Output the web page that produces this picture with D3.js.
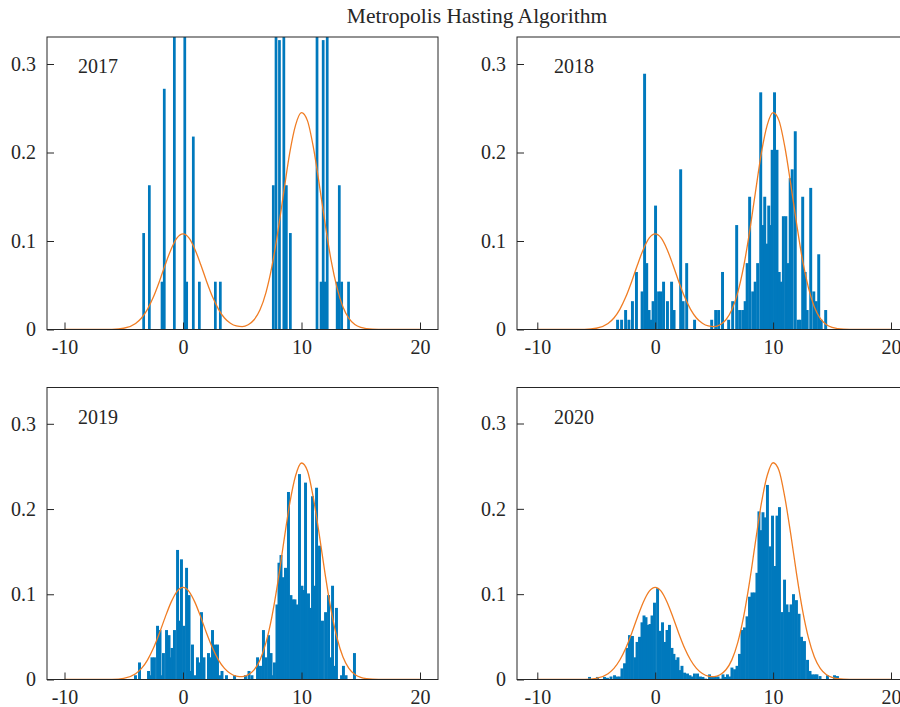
<!DOCTYPE html>
<html>
<head>
<meta charset="utf-8">
<script src="https://cdnjs.cloudflare.com/ajax/libs/d3/7.8.5/d3.min.js"></script>
<style>
body { margin: 0; background: #fff; }
svg text { font-family: "Liberation Serif", "DejaVu Serif", serif; fill: #262626; }
</style>
</head>
<body>
<div id="chart"></div>
<script>
var years = ["2017", "2018", "2019", "2020"];
var xTicks = [-10, 0, 10, 20];
var yTicks = [0, 0.1, 0.2, 0.3];

// bin centres and densities
var bins2017 = [-3.32, -2.84, -1.77, -1.58, -0.73, 0.15, 0.31, 0.87, 1.38, 2.73, 3.15,
  7.62, 7.85, 8.14, 8.51, 8.72, 9.06, 11.31, 11.65, 11.83, 12.01, 12.17, 13.01, 13.19, 13.39, 13.97];
var dens2017 = [0.109, 0.163, 0.054, 0.272, 0.38, 0.38, 0.054, 0.218, 0.054, 0.054, 0.054,
  0.163, 0.38, 0.327, 0.38, 0.163, 0.109, 0.38, 0.054, 0.327, 0.054, 0.38, 0.054, 0.163, 0.054, 0.054];

var bins2018 = [-3.19, -2.85, -2.51, -2.23, -1.93, -1.59, -1.11, -0.90, -0.72, -0.52, -0.35, -0.18,
  0.03, 0.29, 0.50, 0.71, 1.04, 1.39, 1.60, 2.16, 2.37, 2.67, 3.34, 4.79, 5.13, 5.38, 5.71, 6.23,
  6.57, 6.91, 7.16, 7.42, 7.63, 7.80, 8.01, 8.27, 8.48, 8.69, 8.95, 9.12, 9.29, 9.46, 9.63, 9.78,
  9.92, 10.12, 10.33, 10.52, 10.69, 10.87, 11.08, 11.28, 11.45, 11.62, 11.88, 12.13, 12.30, 12.51,
  12.72, 12.89, 13.19, 13.45, 13.66, 13.87, 14.08, 14.46];
var dens2018 = [0.011, 0.011, 0.022, 0.011, 0.032, 0.065, 0.043, 0.289, 0.075, 0.022, 0.011, 0.032,
  0.14, 0.043, 0.043, 0.054, 0.032, 0.054, 0.022, 0.181, 0.032, 0.075, 0.011, 0.011, 0.022, 0.022, 0.065, 0.011,
  0.032, 0.118, 0.022, 0.022, 0.032, 0.075, 0.15, 0.043, 0.054, 0.075, 0.268, 0.118, 0.15, 0.097, 0.14, 0.118,
  0.203, 0.268, 0.203, 0.065, 0.054, 0.128, 0.128, 0.075, 0.171, 0.181, 0.224, 0.011, 0.011, 0.15,
  0.065, 0.022, 0.16, 0.043, 0.032, 0.085, 0.011, 0.022];

var bins2019 = [-4.01, -3.67, -2.91, -2.74, -2.62, -2.41, -2.15, -1.94, -1.81, -1.65, -1.39, -1.18,
  -1.05, -0.93, -0.72, -0.46, -0.30, -0.13, 0.08, 0.30, 0.51, 0.63, 0.80, 1.01, 1.22, 1.39, 1.56,
  1.77, 2.15, 2.32, 2.49, 2.70, 2.91, 3.12, 3.29, 3.67, 4.35, 5.27, 5.57, 5.82, 6.29, 6.54, 6.79,
  7.00, 7.22, 7.43, 7.55, 7.72, 7.93, 8.10, 8.27, 8.44, 8.65, 8.90, 9.11, 9.28, 9.45, 9.62, 9.83,
  10.04, 10.17, 10.34, 10.59, 10.76, 10.93, 11.10, 11.27, 11.52, 11.77, 12.03, 12.28, 12.45, 12.62,
  12.78, 12.95, 13.38, 13.54, 13.76, 14.47];
var dens2019 = [0.005, 0.020, 0.010, 0.005, 0.026, 0.026, 0.063, 0.058, 0.005, 0.031, 0.058, 0.052,
  0.026, 0.037, 0.058, 0.152, 0.069, 0.141, 0.063, 0.131, 0.099, 0.010, 0.041, 0.005, 0.026, 0.020, 0.079,
  0.026, 0.031, 0.026, 0.058, 0.041, 0.041, 0.005, 0.010, 0.005, 0.005, 0.005, 0.010, 0.005, 0.026, 0.016, 0.058,
  0.026, 0.052, 0.031, 0.005, 0.020, 0.088, 0.137, 0.146, 0.120, 0.131, 0.220, 0.099, 0.094, 0.094, 0.088, 0.241,
  0.110, 0.105, 0.231, 0.101, 0.084, 0.215, 0.110, 0.225, 0.157, 0.069, 0.079, 0.099, 0.026, 0.110,
  0.016, 0.084, 0.005, 0.016, 0.005, 0.031];

var bins2020 = [-5.57, -4.89, -4.30, -4.05, -3.75, -3.45, -3.24, -3.03, -2.82, -2.60, -2.39, -2.18,
  -1.93, -1.71, -1.54, -1.33, -1.12, -0.95, -0.78, -0.61, -0.44, -0.27, -0.06, 0.20, 0.41, 0.62, 0.83,
  1.00, 1.21, 1.42, 1.59, 1.76, 1.93, 2.10, 2.27, 2.49, 2.74, 2.95, 3.12, 3.33, 3.59, 3.84, 4.05, 4.27,
  4.61, 4.86, 5.11, 5.33, 5.54, 5.75, 5.92, 6.13, 6.34, 6.51, 6.73, 6.94, 7.15, 7.36, 7.57, 7.79, 8.00,
  8.21, 8.42, 8.63, 8.80, 8.97, 9.14, 9.31, 9.52, 9.74, 9.95, 10.16, 10.33, 10.54, 10.75, 10.97, 11.18,
  11.35, 11.52, 11.73, 11.98, 12.20, 12.41, 12.66, 12.92, 13.13, 13.34, 13.55, 13.72, 13.98, 14.61,
  15.21, 15.46];
var dens2020 = [0.003, 0.003, 0.003, 0.002, 0.0035, 0.005, 0.0035, 0.0035, 0.013, 0.019, 0.037, 0.052,
  0.051, 0.026, 0.044, 0.050, 0.067, 0.075, 0.073, 0.064, 0.065, 0.075, 0.090, 0.107, 0.057, 0.067, 0.044,
  0.058, 0.064, 0.037, 0.030, 0.023, 0.026, 0.011, 0.016, 0.008, 0.007, 0.005, 0.0035, 0.007, 0.007, 0.0035, 0.003, 0.001,
  0.006, 0.003, 0.003, 0.0035, 0.001, 0.006, 0.003, 0.006, 0.0035, 0.014, 0.012, 0.016, 0.030, 0.058, 0.061, 0.074, 0.097,
  0.102, 0.102, 0.125, 0.197, 0.175, 0.196, 0.190, 0.228, 0.156, 0.192, 0.133, 0.192, 0.202, 0.079, 0.117, 0.088,
  0.079, 0.088, 0.100, 0.093, 0.077, 0.050, 0.045, 0.023, 0.010, 0.006, 0.006, 0.006, 0.004, 0.005,
  0.005, 0.004];

// target density
var curveX = [-10, -7, -6, -5, -4, -3.5, -3, -2.5, -2, -1.5, -1, -0.5, 0, 0.5, 1, 1.5, 2, 2.5, 3, 3.5,
  4, 4.5, 5, 5.5, 6, 6.5, 7, 7.5, 8, 8.5, 9, 9.5, 10, 10.5, 11, 11.5, 12, 12.5, 13, 13.5, 14, 14.5,
  15, 15.5, 16, 17, 20];
var curveTop = [0, 0, 0.0002, 0.0014, 0.0068, 0.013, 0.0228, 0.0366, 0.054, 0.0732, 0.0908, 0.1035,
  0.108, 0.1035, 0.0908, 0.0732, 0.054, 0.0366, 0.0228, 0.013, 0.007, 0.004, 0.0033, 0.0054, 0.011,
  0.0222, 0.0417, 0.071, 0.110, 0.155, 0.199, 0.231, 0.245, 0.236, 0.206, 0.164, 0.119, 0.078, 0.047,
  0.0254, 0.0125, 0.0056, 0.0023, 0.0009, 0.0003, 0, 0];
var curveBottom = [0, 0, 0.0002, 0.0014, 0.0068, 0.013, 0.0228, 0.0366, 0.054, 0.0732, 0.0908, 0.1035,
  0.108, 0.1035, 0.0908, 0.0732, 0.054, 0.0366, 0.0228, 0.013, 0.007, 0.004, 0.0034, 0.0056, 0.0114,
  0.023, 0.0432, 0.0736, 0.114, 0.161, 0.206, 0.239, 0.254, 0.245, 0.213, 0.170, 0.123, 0.081, 0.0487,
  0.0263, 0.013, 0.0058, 0.0024, 0.0009, 0.0003, 0, 0];

var binX = [bins2017, bins2018, bins2019, bins2020];
var binY = [dens2017, dens2018, dens2019, dens2020];
var curves = [curveTop, curveTop, curveBottom, curveBottom];

var W = 900, H = 707;
var barColor = '#0079bd', lineColor = '#f07d24', ink = '#262626';

// frame box of each panel and where -10/20 and 0/0.3 fall
var layout = [
  {left: 47, right: 438, top: 37, bottom: 329.5, x0: 64.5, x1: 420, y3: 64, barW: 0.23, labelX: 78},
  {left: 517, right: 909, top: 37, bottom: 329.5, x0: 537.3, x1: 891, y3: 64, barW: 0.25, labelX: 554},
  {left: 47, right: 438, top: 387.5, bottom: 679.5, x0: 64.5, x1: 420, y3: 423.8, barW: 0.25, labelX: 78},
  {left: 517, right: 909, top: 387.5, bottom: 679.5, x0: 537.3, x1: 891, y3: 423.5, barW: 0.25, labelX: 554}
];

var svg = d3.select('#chart')
  .append('svg')
    .attr('width', W)
    .attr('height', H);

svg.append('text')
    .attr('x', 477)
    .attr('y', 23)
    .attr('text-anchor', 'middle')
    .style('font-size', '21.5px')
    .text('Metropolis Hasting Algorithm');

layout.forEach(function(p, i) {
  var x = d3.scaleLinear().domain([-10, 20]).range([p.x0, p.x1]);
  var y = d3.scaleLinear().domain([0, 0.3]).range([p.bottom, p.y3]);

  svg.append('clipPath')
      .attr('id', 'clip' + i)
    .append('rect')
      .attr('x', p.left)
      .attr('y', p.top)
      .attr('width', p.right - p.left)
      .attr('height', p.bottom - p.top);

  var g = svg.append('g').attr('clip-path', 'url(#clip' + i + ')');

  var w = p.barW;
  g.selectAll('rect.bar')
    .data(d3.zip(binX[i], binY[i]))
    .enter()
    .append('rect')
      .attr('class', 'bar')
      .attr('x', function(d) { return x(d[0] - w / 2); })
      .attr('width', x(w) - x(0))
      .attr('y', function(d) { return y(d[1]); })
      .attr('height', function(d) { return y(0) - y(d[1]); })
      .attr('fill', barColor);

  var line = d3.line()
      .x(function(d) { return x(d[0]); })
      .y(function(d) { return y(d[1]); })
      .curve(d3.curveMonotoneX);

  g.append('path')
      .datum(d3.zip(curveX, curves[i]))
      .attr('d', line)
      .attr('fill', 'none')
      .attr('stroke', lineColor)
      .attr('stroke-width', 1.3);

  // x-axis, ticks pointing in
  var xa = svg.append('g')
      .attr('transform', 'translate(0,' + p.bottom + ')')
      .call(d3.axisBottom(x).tickValues(xTicks).tickSize(-7).tickPadding(10)
        .tickFormat(function(d) { return String(d); }));

  // y-axis
  var ya = svg.append('g')
      .attr('transform', 'translate(' + p.left + ',0)')
      .call(d3.axisLeft(y).tickValues(yTicks).tickSize(-7).tickPadding(11)
        .tickFormat(function(d) { return d === 0 ? '0' : d.toFixed(1); }));

  [xa, ya].forEach(function(a) {
    a.select('.domain').remove();
    a.selectAll('line').attr('stroke', ink);
    a.selectAll('text').style('font-size', '20px');
    a.attr('font-family', null);
  });

  svg.append('rect')
      .attr('x', p.left)
      .attr('y', p.top)
      .attr('width', p.right - p.left)
      .attr('height', p.bottom - p.top)
      .attr('fill', 'none')
      .attr('stroke', ink)
      .attr('stroke-width', 1);

  svg.append('text')
      .attr('x', p.labelX)
      .attr('y', p.top + 36)
      .style('font-size', '20px')
      .text(years[i]);
});
</script>
</body>
</html>
